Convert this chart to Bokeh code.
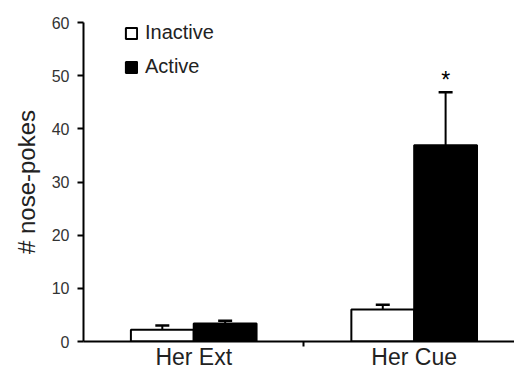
from bokeh.plotting import figure
from bokeh.models import (ColumnDataSource, Range1d, FixedTicker, Whisker, TeeHead,
                          Legend, LegendItem)
from bokeh.core.properties import value
from bokeh.embed import file_html
from bokeh.resources import INLINE

categories = ["Her Ext", "Her Cue"]
inactive = [2.2, 6.0]
inactive_err = [0.8, 0.9]
active = [3.4, 36.9]
active_err = [0.5, 10.0]
star_labels = ["", "*"]
y_ticks = [0, 10, 20, 30, 40, 50, 60]

centers = [i + 0.5 for i in range(len(categories))]
bw = 0.285
x_in = [c - bw / 2 for c in centers]
x_ac = [c + bw / 2 for c in centers]

src_in = ColumnDataSource(dict(x=x_in, top=inactive, up=[v + e for v, e in zip(inactive, inactive_err)]))
src_ac = ColumnDataSource(dict(x=x_ac, top=active, up=[v + e for v, e in zip(active, active_err)]))
src_star = ColumnDataSource(dict(x=x_ac, y=[v + e + 2.3 for v, e in zip(active, active_err)], t=star_labels))

FONT = "Liberation Sans"

p = figure(width=514, height=372, output_backend="svg", toolbar_location=None,
           x_range=Range1d(0, 1.955), y_range=Range1d(0, 60),
           min_border_top=22, min_border_right=0, min_border_left=83, min_border_bottom=0)
p.outline_line_color = None
p.grid.visible = False

for src in (src_in, src_ac):
    w = Whisker(source=src, base="x", lower="top", upper="up", dimension="height",
                line_color="black", line_width=2,
                upper_head=TeeHead(size=14, line_width=2.5, line_color="black"),
                lower_head=None)
    p.add_layout(w)

r_in = p.vbar(x="x", top="top", width=bw, bottom=0, source=src_in,
              fill_color="white", line_color="black", line_width=2)
r_ac = p.vbar(x="x", top="top", width=bw, bottom=0, source=src_ac,
              fill_color="black", line_color="black", line_width=2)

p.text(x="x", y="y", text="t", source=src_star, text_align="center", text_baseline="alphabetic",
       text_font=value(FONT), text_font_size="23px", text_color="black")

p.yaxis.ticker = FixedTicker(ticks=y_ticks)
p.yaxis.major_tick_out = 6
p.yaxis.major_tick_in = 0
p.yaxis.minor_tick_out = 0
p.yaxis.minor_tick_in = 0
p.yaxis.axis_line_width = 2
p.yaxis.major_tick_line_width = 2
p.yaxis.major_label_text_font = FONT
p.yaxis.major_label_text_font_size = "16px"
p.yaxis.major_label_text_color = "#333333"
p.yaxis.major_label_standoff = 8
p.yaxis.axis_label = "# nose-pokes"
p.yaxis.axis_label_text_font = FONT
p.yaxis.axis_label_text_font_size = "24px"
p.yaxis.axis_label_text_font_style = "normal"
p.yaxis.axis_label_text_color = "#222222"
p.yaxis.axis_label_standoff = 9

p.xaxis.ticker = FixedTicker(ticks=centers, minor_ticks=[1.0])
p.xaxis.major_label_overrides = {c: lab for c, lab in zip(centers, categories)}
p.xaxis.major_tick_out = 0
p.xaxis.major_tick_in = 0
p.xaxis.minor_tick_out = 5
p.xaxis.minor_tick_in = 0
p.xaxis.minor_tick_line_width = 2
p.xaxis.minor_tick_line_color = "black"
p.xaxis.axis_line_width = 2
p.xaxis.major_label_text_font = FONT
p.xaxis.major_label_text_font_size = "23px"
p.xaxis.major_label_text_color = "#222222"
p.xaxis.major_label_standoff = -3

legend = Legend(items=[LegendItem(label="Inactive", renderers=[r_in]),
                       LegendItem(label="Active", renderers=[r_ac])],
                location=(41, 263), orientation="vertical")
legend.border_line_color = None
legend.background_fill_alpha = 0
legend.padding = 0
legend.spacing = 11
legend.glyph_width = 14
legend.glyph_height = 14
legend.label_text_font = FONT
legend.label_text_font_size = "20px"
legend.label_text_color = "#222222"
legend.label_standoff = 7
p.add_layout(legend, "center")

open("out.html", "w").write(file_html(p, INLINE))
